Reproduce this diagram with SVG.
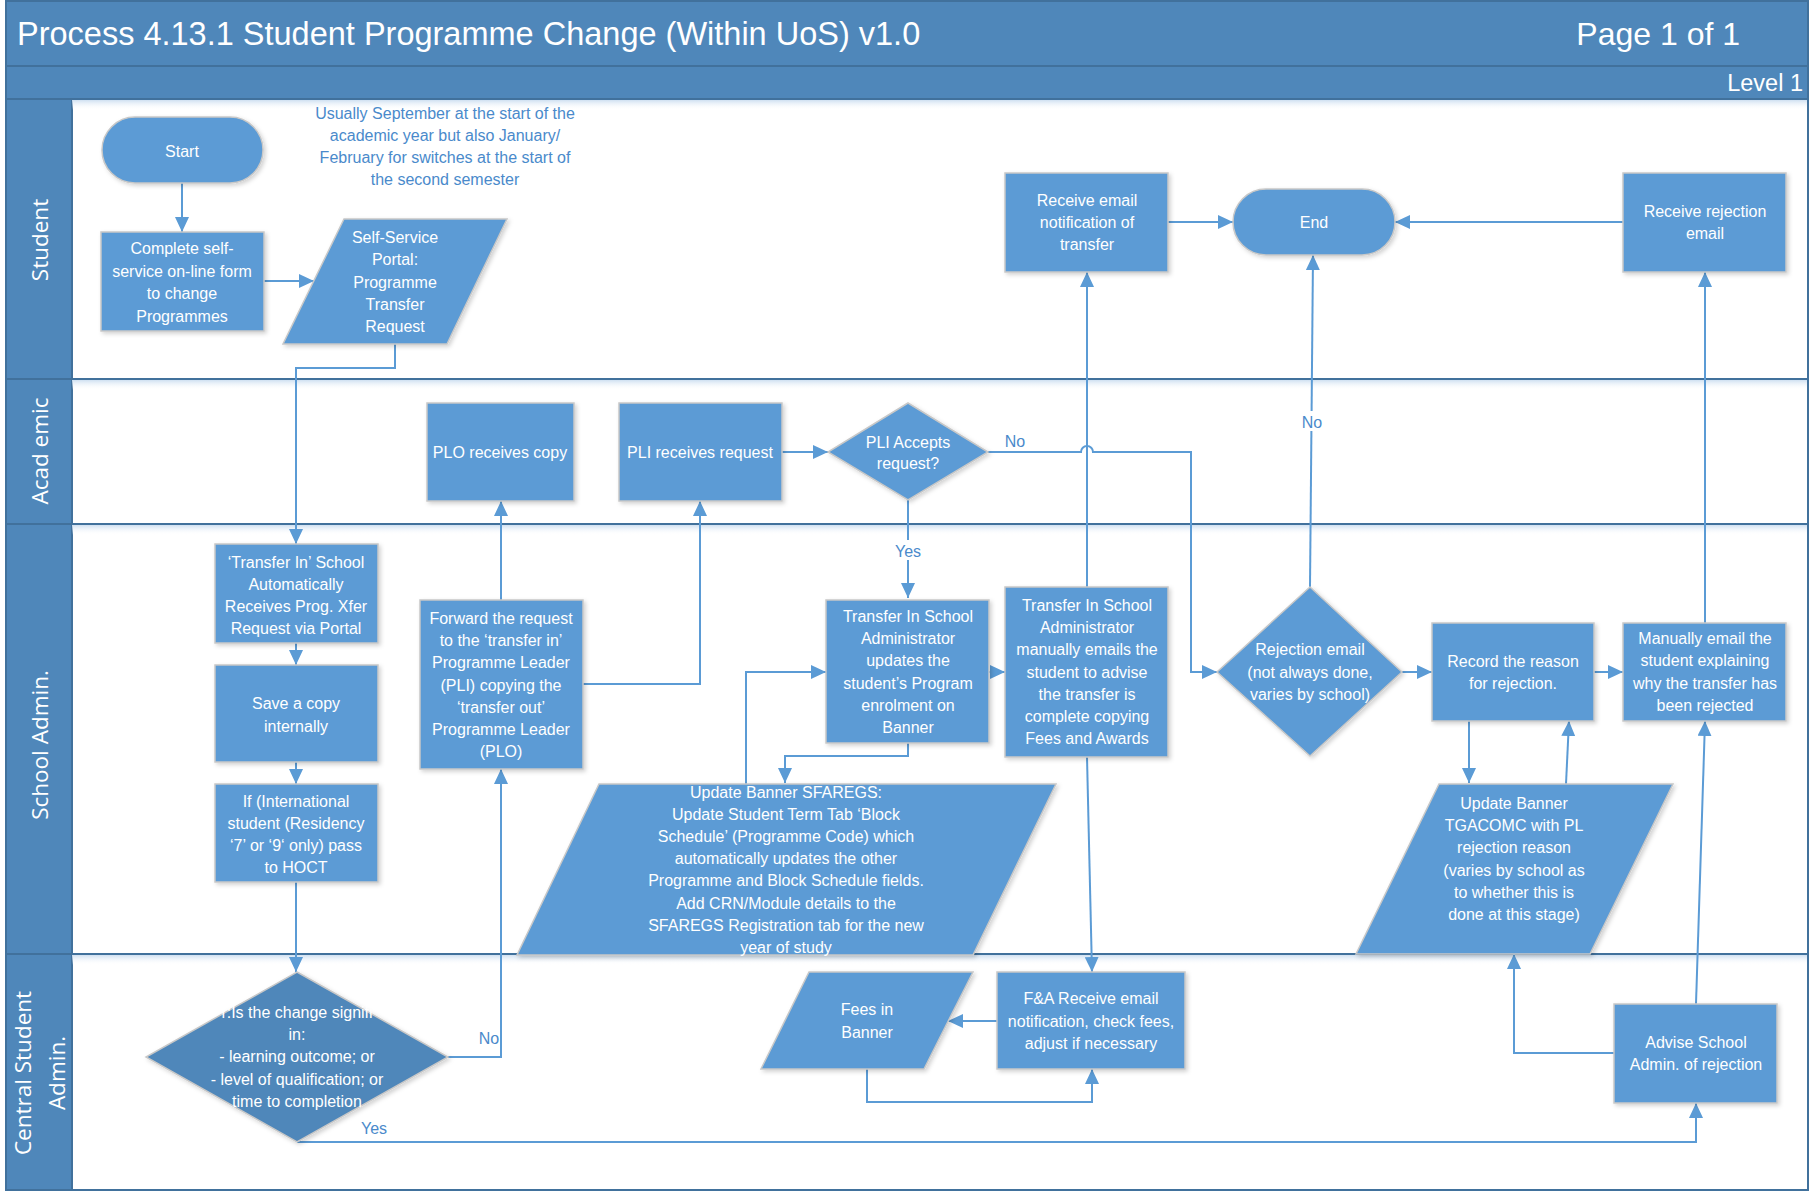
<svg xmlns="http://www.w3.org/2000/svg" width="1813" height="1192" viewBox="0 0 1813 1192">
<defs>
<style>
.bar{fill:#4F87BA;stroke:#41719C;stroke-width:2}
.lane{fill:#ffffff}
.div{stroke:#41719C;stroke-width:2;fill:none}
.node{fill:#5B9BD5;stroke:#C8C8C8;stroke-width:1.5;filter:url(#sh)}
.dark{fill:#4F87BA;stroke:#C8C8C8;stroke-width:1.5;filter:url(#sh)}
.t{font-family:"Liberation Sans",Arial,sans-serif;font-size:16px;fill:#ffffff;text-anchor:middle}
.lbl{font-family:"Liberation Sans",Arial,sans-serif;font-size:16px;fill:#4A8ACB;text-anchor:middle}
.ttl{font-family:"Liberation Sans",Arial,sans-serif;fill:#ffffff}
.lane-t{font-family:"Open Sans","DejaVu Sans",sans-serif;font-size:22.5px;fill:#ffffff;text-anchor:middle}
.conn path{fill:none;stroke:#5B9BD5;stroke-width:2}
.conn path.a{marker-end:url(#ah)}
</style>
<marker id="ah" markerUnits="userSpaceOnUse" markerWidth="15" markerHeight="14" viewBox="0 0 15 14" refX="15" refY="7" orient="auto">
<path d="M0,0 L15,7 L0,14 z" fill="#5B9BD5"/>
</marker>
<filter id="sh" x="-10%" y="-10%" width="130%" height="130%">
<feDropShadow dx="2" dy="2" stdDeviation="2" flood-color="#000000" flood-opacity="0.18"/>
</filter>
<linearGradient id="glow" x1="0" y1="0" x2="0" y2="1">
<stop offset="0" stop-color="#CFE0F1"/>
<stop offset="1" stop-color="#FFFFFF" stop-opacity="0"/>
</linearGradient>
<clipPath id="dclip"><polygon points="297,962 464,1057 297,1152 130,1057"/></clipPath>
</defs>

<g id="frame">
<rect x="0" y="0" width="1813" height="1192" fill="#ffffff"/>
<rect class="bar" x="6" y="1" width="1802" height="65"/>
<rect class="bar" x="6" y="66" width="1802" height="33"/>
<rect class="lane" x="72" y="99" width="1736" height="1091" stroke="#41719C" stroke-width="2"/>
<rect class="bar" x="6" y="99" width="66" height="1091"/>
<rect x="72" y="100" width="1735" height="10" fill="url(#glow)"/>
<rect x="72" y="380" width="1735" height="10" fill="url(#glow)"/>
<rect x="72" y="525" width="1735" height="10" fill="url(#glow)"/>
<rect x="72" y="955" width="1735" height="10" fill="url(#glow)"/>
<line class="div" x1="6" y1="379" x2="1808" y2="379"/>
<line class="div" x1="6" y1="524" x2="1808" y2="524"/>
<line class="div" x1="6" y1="954" x2="1808" y2="954"/>
<text class="ttl" x="17" y="45" font-size="32.5">Process 4.13.1 Student Programme Change (Within UoS) v1.0</text>
<text class="ttl" x="1740" y="45" font-size="32" text-anchor="end">Page 1 of 1</text>
<text class="ttl" x="1803" y="91" font-size="23.5" text-anchor="end">Level 1</text>
<text class="lane-t" transform="translate(48,240) rotate(-90)">Student</text>
<text class="lane-t" transform="translate(48,451) rotate(-90)">Acad emic</text>
<text class="lane-t" transform="translate(48,745) rotate(-90)">School Admin.</text>
<text class="lane-t" transform="translate(31,1073) rotate(-90)">Central Student</text>
<text class="lane-t" transform="translate(65,1073) rotate(-90)">Admin.</text>
</g>

<g id="note">
<text class="lbl" x="445" y="119">Usually September at the start of the<tspan x="445" dy="22">academic year but also January/</tspan><tspan x="445" dy="22">February for switches at the start of</tspan><tspan x="445" dy="22">the second semester</tspan></text>
</g>

<g class="conn" id="connectors">
<path class="a" d="M182,183 V232"/>
<path class="a" d="M264,281 H314"/>
<path class="a" d="M395,344 V368 H296 V544"/>
<path class="a" d="M296,643 V665"/>
<path class="a" d="M296,762 V784"/>
<path class="a" d="M296,882 V972"/>
<path class="a" d="M448,1057 H501 V769"/>
<path class="a" d="M501,600 V501"/>
<path class="a" d="M583,684 H700 V501"/>
<path class="a" d="M782,452 H828"/>
<path class="a" d="M908,500 V598"/>
<path class="a" d="M988,452 H1081 A6,6 0 0 1 1093,452 H1191 V672 H1217"/>
<path class="a" d="M989,672 H1005"/>
<path class="a" d="M908,743 V756 H785 V783"/>
<path class="a" d="M746,784 V672 H826"/>
<path class="a" d="M1087,587 V272"/>
<path class="a" d="M1087,757 L1092,972"/>
<path class="a" d="M1168,222 H1233"/>
<path class="a" d="M1310,587 L1313,255"/>
<path class="a" d="M1623,222 H1395"/>
<path class="a" d="M1402,672 H1432"/>
<path class="a" d="M1594,672 H1623"/>
<path class="a" d="M1705,623 V272"/>
<path class="a" d="M1469,721 V783"/>
<path class="a" d="M1566,784 L1569,721"/>
<path class="a" d="M1614,1053 H1514 V954"/>
<path class="a" d="M1696,1004 L1705,721"/>
<path class="a" d="M297,1142 H1696 V1103"/>
<path class="a" d="M997,1021 H948"/>
<path class="a" d="M867,1069 V1102 H1092 V1069"/>
<rect x="894" y="540" width="28" height="20" fill="#ffffff"/>
<text class="lbl" x="908" y="557">Yes</text>
<rect x="1299" y="411" width="26" height="20" fill="#ffffff"/>
<text class="lbl" x="1312" y="428">No</text>
<text class="lbl" x="1015" y="447">No</text>
<text class="lbl" x="489" y="1044">No</text>
<text class="lbl" x="374" y="1134">Yes</text>
</g>

<g id="start">
<rect class="node" x="102" y="117" width="161" height="66" rx="33"/>
<text class="t" x="182" y="157">Start</text>
</g>
<g id="complete-form">
<rect class="node" x="101" y="232" width="163" height="99"/>
<text class="t" x="182" y="254">Complete self-<tspan x="182" dy="22.5">service on-line form</tspan><tspan x="182" dy="22.5">to change</tspan><tspan x="182" dy="22.5">Programmes</tspan></text>
</g>
<g id="portal">
<polygon class="node" points="344,219 507,219 447,344 283,344"/>
<text class="t" x="395" y="243">Self-Service<tspan x="395" dy="22.3">Portal:</tspan><tspan x="395" dy="22.3">Programme</tspan><tspan x="395" dy="22.3">Transfer</tspan><tspan x="395" dy="22.3">Request</tspan></text>
</g>
<g id="receive-notification">
<rect class="node" x="1005" y="173" width="163" height="99"/>
<text class="t" x="1087" y="206">Receive email<tspan x="1087" dy="22">notification of</tspan><tspan x="1087" dy="22">transfer</tspan></text>
</g>
<g id="end">
<rect class="node" x="1233" y="189" width="162" height="66" rx="33"/>
<text class="t" x="1314" y="228">End</text>
</g>
<g id="receive-rejection">
<rect class="node" x="1623" y="173" width="163" height="99"/>
<text class="t" x="1705" y="217">Receive rejection<tspan x="1705" dy="22">email</tspan></text>
</g>

<g id="plo-receives">
<rect class="node" x="427" y="403" width="147" height="98"/>
<text class="t" x="500" y="458">PLO receives copy</text>
</g>
<g id="pli-receives">
<rect class="node" x="619" y="403" width="163" height="98"/>
<text class="t" x="700" y="458">PLI receives request</text>
</g>
<g id="pli-accepts">
<polygon class="node" points="908,403 988,452 908,500 828,452"/>
<text class="t" x="908" y="448">PLI Accepts<tspan x="908" dy="21">request?</tspan></text>
</g>

<g id="transfer-in-receives">
<rect class="node" x="215" y="544" width="163" height="99"/>
<text class="t" x="296" y="568">‘Transfer In’ School<tspan x="296" dy="22">Automatically</tspan><tspan x="296" dy="22">Receives Prog. Xfer</tspan><tspan x="296" dy="22">Request via Portal</tspan></text>
</g>
<g id="save-copy">
<rect class="node" x="215" y="665" width="163" height="97"/>
<text class="t" x="296" y="709">Save a copy<tspan x="296" dy="23">internally</tspan></text>
</g>
<g id="international">
<rect class="node" x="215" y="784" width="163" height="98"/>
<text class="t" x="296" y="807">If (International<tspan x="296" dy="22">student (Residency</tspan><tspan x="296" dy="22">‘7’ or ‘9‘ only) pass</tspan><tspan x="296" dy="22">to HOCT</tspan></text>
</g>
<g id="forward-request">
<rect class="node" x="420" y="600" width="163" height="169"/>
<text class="t" x="501" y="624">Forward the request<tspan x="501" dy="22.2">to the ‘transfer in’</tspan><tspan x="501" dy="22.2">Programme Leader</tspan><tspan x="501" dy="22.2">(PLI) copying the</tspan><tspan x="501" dy="22.2">‘transfer out’</tspan><tspan x="501" dy="22.2">Programme Leader</tspan><tspan x="501" dy="22.2">(PLO)</tspan></text>
</g>
<g id="updates-enrolment">
<rect class="node" x="826" y="600" width="163" height="143"/>
<text class="t" x="908" y="622">Transfer In School<tspan x="908" dy="22.2">Administrator</tspan><tspan x="908" dy="22.2">updates the</tspan><tspan x="908" dy="22.2">student’s Program</tspan><tspan x="908" dy="22.2">enrolment on</tspan><tspan x="908" dy="22.2">Banner</tspan></text>
</g>
<g id="manual-email">
<rect class="node" x="1005" y="587" width="163" height="170"/>
<text class="t" x="1087" y="611">Transfer In School<tspan x="1087" dy="22.2">Administrator</tspan><tspan x="1087" dy="22.2">manually emails the</tspan><tspan x="1087" dy="22.2">student to advise</tspan><tspan x="1087" dy="22.2">the transfer is</tspan><tspan x="1087" dy="22.2">complete copying</tspan><tspan x="1087" dy="22.2">Fees and Awards</tspan></text>
</g>
<g id="sfaregs">
<polygon class="node" points="599,784 1056,784 973,955 517,955"/>
<text class="t" x="786" y="798">Update Banner SFAREGS:<tspan x="786" dy="22.1">Update Student Term Tab  ‘Block</tspan><tspan x="786" dy="22.1">Schedule’ (Programme Code)  which</tspan><tspan x="786" dy="22.1">automatically updates the other</tspan><tspan x="786" dy="22.1">Programme and Block Schedule fields.</tspan><tspan x="786" dy="22.1">Add CRN/Module details to the</tspan><tspan x="786" dy="22.1">SFAREGS Registration tab  for the new</tspan><tspan x="786" dy="22.1">year of study</tspan></text>
</g>
<g id="rejection-email">
<polygon class="node" points="1310,587 1402,672 1310,756 1217,672"/>
<text class="t" x="1310" y="655">Rejection email<tspan x="1310" dy="22.5">(not always done,</tspan><tspan x="1310" dy="22.5">varies by school)</tspan></text>
</g>
<g id="record-reason">
<rect class="node" x="1432" y="623" width="162" height="98"/>
<text class="t" x="1513" y="667">Record the reason<tspan x="1513" dy="22">for rejection.</tspan></text>
</g>
<g id="manually-email">
<rect class="node" x="1623" y="623" width="163" height="98"/>
<text class="t" x="1705" y="644">Manually email the<tspan x="1705" dy="22.3">student explaining</tspan><tspan x="1705" dy="22.3">why the transfer has</tspan><tspan x="1705" dy="22.3">been rejected</tspan></text>
</g>
<g id="tgacomc">
<polygon class="node" points="1439,784 1673,784 1590,954 1356,954"/>
<text class="t" x="1514" y="809">Update Banner<tspan x="1514" dy="22.2">TGACOMC with PL</tspan><tspan x="1514" dy="22.2">rejection reason</tspan><tspan x="1514" dy="22.2">(varies by school as</tspan><tspan x="1514" dy="22.2">to whether this is</tspan><tspan x="1514" dy="22.2">done at this stage)</tspan></text>
</g>

<g id="significant-change">
<polygon class="dark" points="297,972 448,1057 297,1142 146,1057"/>
<text class="t" x="297" y="1018" clip-path="url(#dclip)">r:Is the change signifi<tspan x="297" dy="22.2">in:</tspan><tspan x="297" dy="22.2">- learning outcome; or</tspan><tspan x="297" dy="22.2">- level of qualification; or</tspan><tspan x="297" dy="22.2">time to completion</tspan></text>
</g>
<g id="fees-banner">
<polygon class="node" points="809,972 973,972 924,1069 761,1069"/>
<text class="t" x="867" y="1015">Fees in<tspan x="867" dy="23">Banner</tspan></text>
</g>
<g id="fa-receive">
<rect class="node" x="997" y="972" width="188" height="97"/>
<text class="t" x="1091" y="1004">F&amp;A Receive email<tspan x="1091" dy="22.5">notification, check fees,</tspan><tspan x="1091" dy="22.5">adjust if necessary</tspan></text>
</g>
<g id="advise-school">
<rect class="node" x="1614" y="1004" width="163" height="99"/>
<text class="t" x="1696" y="1048">Advise School<tspan x="1696" dy="22">Admin. of rejection</tspan></text>
</g>
</svg>
